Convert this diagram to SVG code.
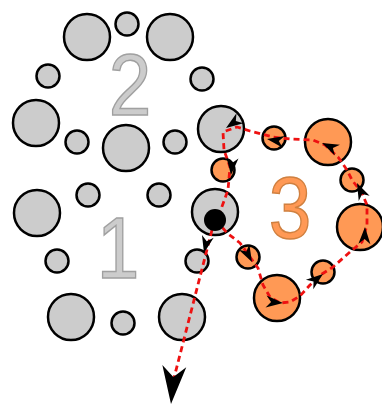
<svg xmlns="http://www.w3.org/2000/svg" xmlns:xlink="http://www.w3.org/1999/xlink" width="382" height="407" viewBox="0 0 382 407">
<style>
.g{fill:#cccccc;stroke:#000;stroke-width:2.5}
.o{fill:#ff9955;stroke:#000;stroke-width:2.5}
.lbl{font-family:"Liberation Sans",Arial,sans-serif;font-size:88px;stroke-width:1.5;text-anchor:middle}
.lg{fill:#cccccc;stroke:#a0a0a0}
.lo{fill:#ff9955;stroke:#d08040}
.path{fill:none;stroke:#ee1111;stroke-width:2.8;stroke-dasharray:6,4;stroke-linejoin:round}
.ah{fill:#000}
</style>
<defs>
<path id="a" class="ah" d="M0,0 L-17,-6 L-12,0 L-17,6 Z"/>
<path id="A" class="ah" d="M0,0 L-38,-12 L-27,0 L-38,12 Z"/>
</defs>
<rect width="382" height="407" fill="#fff"/>
<g id="labels">
<text class="lbl lg" transform="translate(130,115) scale(0.87,1)">2</text>
<text class="lbl lg" transform="translate(118,278) scale(0.87,1)">1</text>
<text class="lbl lo" transform="translate(290,238) scale(0.87,1)">3</text>
</g>
<g id="nodes">
<g id="g1"><circle class="g" cx="87" cy="37" r="23"/></g>
<g id="g2"><circle class="g" cx="127" cy="24" r="11.5"/></g>
<g id="g3"><circle class="g" cx="170" cy="37" r="23"/></g>
<g id="g4"><circle class="g" cx="48" cy="76" r="11.5"/></g>
<g id="g5"><circle class="g" cx="202" cy="79" r="11.5"/></g>
<g id="g6"><circle class="g" cx="36" cy="123" r="23"/></g>
<g id="g7"><circle class="g" cx="77" cy="142" r="11.5"/></g>
<g id="g8"><circle class="g" cx="126" cy="148" r="23"/></g>
<g id="g9"><circle class="g" cx="175" cy="142" r="11.5"/></g>
<g id="g10"><circle class="g" cx="221" cy="129" r="23"/></g>
<g id="g11"><circle class="g" cx="88" cy="195" r="11.5"/></g>
<g id="g12"><circle class="g" cx="159" cy="195" r="11.5"/></g>
<g id="g13"><circle class="g" cx="37" cy="213" r="23"/></g>
<g id="g14"><circle class="g" cx="215" cy="212" r="23"/></g>
<g id="g15"><circle class="g" cx="57" cy="261" r="11.5"/></g>
<g id="g16"><circle class="g" cx="197" cy="261" r="11.5"/></g>
<g id="g17"><circle class="g" cx="71" cy="317" r="23"/></g>
<g id="g18"><circle class="g" cx="123" cy="323" r="11.5"/></g>
<g id="g19"><circle class="g" cx="182" cy="317" r="23"/></g>
<g id="o1"><circle class="o" cx="274" cy="138" r="11.5"/></g>
<g id="o2"><circle class="o" cx="328" cy="142" r="23"/></g>
<g id="o3"><circle class="o" cx="223" cy="170" r="11.5"/></g>
<g id="o4"><circle class="o" cx="352" cy="180" r="11.5"/></g>
<g id="o5"><circle class="o" cx="360" cy="227" r="23"/></g>
<g id="o6"><circle class="o" cx="248" cy="257" r="11.5"/></g>
<g id="o7"><circle class="o" cx="323" cy="272" r="11.5"/></g>
<g id="o8"><circle class="o" cx="277" cy="298" r="23"/></g>
</g>
<g id="connectors">
<path class="path" d="M216,220 L227,233 L240,243 L250,257 L258,268 L263,285 L270,297 L280,303 L290,302 L300,296 L310,285 L322,274 L333,267 L350,252 L362,242 L367,225 L367,205 L362,193 L352,180 L347,170 L338,157 L325,145 L313,140 L290,139 L273,137 L250,131 L237,127 L223,132 L224,150 L230,167 L228,190 L220,212 Z"/>
<path class="path" d="M212,230 L174,378"/>
<use xlink:href="#a" transform="translate(252,262) rotate(62)"/>
<use xlink:href="#a" transform="translate(283,303) rotate(5)"/>
<use xlink:href="#a" transform="translate(323,274) rotate(-38)"/>
<use xlink:href="#a" transform="translate(365,227) rotate(-88)"/>
<use xlink:href="#a" transform="translate(357,183) rotate(-115)"/>
<use xlink:href="#a" transform="translate(322,143) rotate(205)"/>
<use xlink:href="#a" transform="translate(267,139) rotate(190)"/>
<use xlink:href="#a" transform="translate(226,128) rotate(145)"/>
<use xlink:href="#a" transform="translate(231,175) rotate(95)"/>
<use xlink:href="#a" transform="translate(204,253) rotate(103)"/>
<use xlink:href="#A" transform="translate(171,404) rotate(95)"/>
</g>
<g id="start"><circle cx="215" cy="220" r="11" fill="#000"/></g>
</svg>
